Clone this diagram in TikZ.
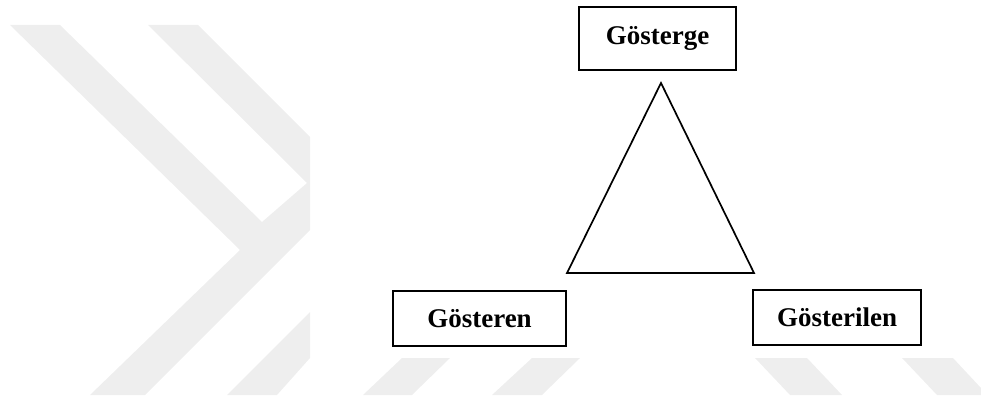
\documentclass[tikz,border=0pt]{standalone}
\usepackage{fontspec}
\setmainfont{Liberation Serif}
\definecolor{wmgray}{HTML}{EEEEEE}

\begin{document}
\begin{tikzpicture}[x=1pt,y=-1pt,
    main node/.style={draw,line width=2pt,rectangle,minimum height=55pt,inner sep=0pt,font=\bfseries\fontsize{27}{30}\selectfont},
    wm/.style={fill=wmgray,draw=none},
    tri/.style={draw,line width=1.7pt,line join=miter}]
                \useasboundingbox (0,0) rectangle (981,401);

                % watermark
                \path[wm] (10,25) -- (60,25) -- (262,222) -- (307,183) -- (148,25) -- (198,25) -- (310,137) -- (310,230) -- (145,395) -- (90,395) -- (240,250) -- cycle;
                \path[wm] (227,395) -- (277,395) -- (310,358) -- (310,312) -- cycle;
                \path[wm] (363,395) -- (412,395) -- (450,358) -- (402,358) -- cycle;
                \path[wm] (492,395) -- (542,395) -- (580,358) -- (532,358) -- cycle;
                \path[wm] (755,358) -- (807,358) -- (842,395) -- (790,395) -- cycle;
                \path[wm] (902,358) -- (953,358) -- (981,388) -- (981,395) -- (937,395) -- cycle;

                \node[main node,minimum width=157pt,minimum height=63pt] (gosterge) at (657.5,38.5) {Gösterge};
                \node[main node,minimum width=173pt] (gosteren) at (479.5,318.5) {Gösteren};
                \node[main node,minimum width=168pt] (gosterilen) at (837,317.5) {Gösterilen};

                \coordinate (apex) at (661,83);
                \coordinate (left) at (567,273);
                \coordinate (right) at (754,273);
                \draw[tri] (apex) -- (left) -- (right) -- cycle;

            \end{tikzpicture}
\end{document}
